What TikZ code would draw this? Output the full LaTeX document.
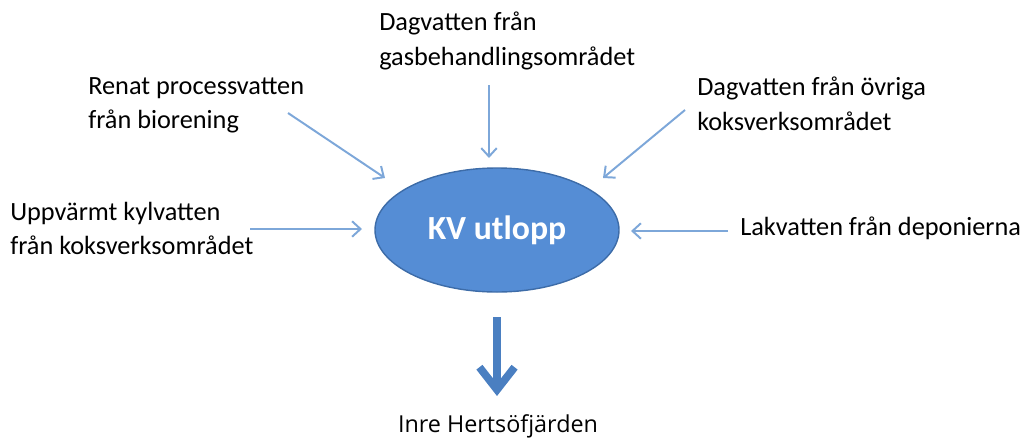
\documentclass[tikz,border=0pt]{standalone}
\usepackage{fontspec}
\setmainfont{Carlito}
\newfontfamily\outfont{Open Sans}
\usetikzlibrary{arrows.meta,shapes.geometric}

\definecolor{kvfill}{HTML}{558DD5}
\definecolor{kvedge}{HTML}{3D6CA8}
\definecolor{flowblue}{HTML}{7DA7D9}
\definecolor{outblue}{HTML}{4A7FC1}

\tikzset{
  source/.style={anchor=north west, inner sep=0pt, align=left, font=\fontsize{18.7}{24.5}\selectfont},
  flow/.style={draw=flowblue, line width=1.4pt, -{Straight Barb[length=6pt, width=11pt, line width=1.4pt]}},
}

\begin{document}
\begin{tikzpicture}[x=0.025cm, y=-0.025cm]
                                \useasboundingbox (0, 0) rectangle (1025, 442);

                                \node (kv) at (497, 230) [ellipse, draw=kvedge, line width=1pt, fill=kvfill,
                                    minimum width=244*0.025cm, minimum height=124*0.025cm, inner sep=0pt,
                                    text=white, font=\fontsize{24}{28}\selectfont\bfseries] {KV utlopp};

                                \node (gas) at (379, 12) [source] {Dagvatten från\\gasbehandlingsområdet};
                                \node (bio) at (88, 77) [source] {Renat processvatten\\från biorening};
                                \node (ovr) at (697, 77) [source] {Dagvatten från övriga\\koksverksområdet};
                                \node (kyl) at (10, 202) [source] {Uppvärmt kylvatten\\från koksverksområdet};
                                \node (lak) at (740, 217) [source] {Lakvatten från deponierna};
                                \node (inre) at (498, 432) [anchor=base, font=\outfont\fontsize{16.6}{19}\selectfont, inner sep=0pt] {Inre Hertsöfjärden};

                                \coordinate (gasA) at (489, 85);
                                \coordinate (gasB) at (489, 158);
                                \coordinate (bioA) at (288, 113);
                                \coordinate (bioB) at (385, 178);
                                \coordinate (ovrA) at (685, 110);
                                \coordinate (ovrB) at (603, 178);
                                \coordinate (kylA) at (250, 229);
                                \coordinate (kylB) at (362, 229);
                                \coordinate (lakA) at (728, 231);
                                \coordinate (lakB) at (631, 231);
                                \coordinate (utA) at (497, 317);
                                \coordinate (utB) at (497, 396);

                                \draw[flow] (gasA) to (gasB);
                                \draw[flow] (bioA) to (bioB);
                                \draw[flow] (ovrA) to (ovrB);
                                \draw[flow] (kylA) to (kylB);
                                \draw[flow] (lakA) to (lakB);
                                \draw[draw=outblue, line width=5.5pt, -{Straight Barb[length=16pt, width=25pt, line width=5.5pt]}] (utA) to (utB);
                            \end{tikzpicture}
\end{document}
